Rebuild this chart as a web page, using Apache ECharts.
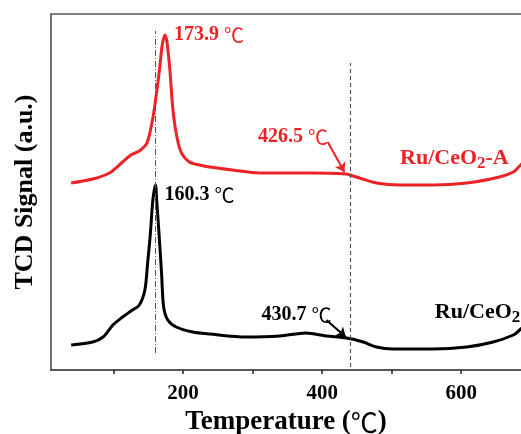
<!DOCTYPE html>
<html>
<head>
<meta charset="utf-8">
<script src="https://cdn.jsdelivr.net/npm/echarts@6/dist/echarts.min.js"></script>
<style>
  html, body { margin: 0; padding: 0; background: #fff; }
  #chart { width: 521px; height: 434px; }
</style>
</head>
<body>
<div id="chart"></div>
<script>
// temperature (℃) and TCD signal (a.u.)
var tempA = [39, 70, 94, 113, 125, 137, 148, 156, 161, 166, 170, 173.9, 177, 181, 185, 190, 197, 209, 224, 238, 271, 310, 339, 387, 435, 440, 454, 478, 512, 559, 608, 655, 675, 684, 700];
var signalA = [187, 191, 197, 208, 215, 219, 227, 250, 273, 300, 325, 335, 327, 300, 263, 237, 218, 208, 205, 203, 200, 197, 197, 197, 196, 195, 192, 187, 185, 185, 187, 193, 198, 204, 215];

var tempB = [39, 70, 85, 99, 113, 125, 137, 145, 149, 153, 156.5, 160.3, 162, 165, 169, 172, 178, 190, 214, 238, 291, 339, 377, 406, 435, 459, 478, 502, 559, 608, 646, 675, 684, 700];
var signalB = [25, 28, 33, 45, 53, 59, 65, 80, 107, 137, 170, 185, 170, 140, 97, 63, 50, 43, 38, 36, 33, 34, 37, 34, 32, 28, 23, 21, 21, 23, 28, 35, 40, 50];

var xTicks = [100, 200, 300, 400, 500, 600];
var xLabels = [200, 400, 600];

var serif = '"Liberation Serif", "Times New Roman", serif';
var red = '#ec2227';

function pairs(xs, ys) {
  return xs.map(function (x, i) { return [x, ys[i]]; });
}

function richFor(color, size) {
  return {
    a: { fontSize: size, fontWeight: 'bold', fontFamily: serif, color: color },
    s: { fontSize: size - 5, fontWeight: 'bold', fontFamily: serif, color: color, padding: [12, 0, 0, 0] },
    c: { fontSize: size, fontWeight: 'normal', fontFamily: '"Noto Sans CJK SC", sans-serif', color: color }
  };
}

function note(coord, text, color, pos, size, dist, offset) {
  return {
    coord: coord,
    symbol: 'circle',
    symbolSize: 0,
    label: {
      show: true,
      position: pos,
      distance: dist || 0,
      offset: offset || [0, 0],
      formatter: text,
      color: color,
      fontFamily: serif,
      fontWeight: 'bold',
      fontSize: size,
      rich: richFor(color, size)
    }
  };
}

var chart = echarts.init(document.getElementById('chart'));

var xBase = {
  type: 'value',
  min: 10,
  max: 686,
  splitLine: { show: false }
};

chart.setOption({
  animation: false,
  grid: { left: 51, top: 14, right: 0, bottom: 64, outerBoundsMode: 'none', containLabel: false },
  xAxis: [
    Object.assign({}, xBase, {
      position: 'bottom',
      name: 'Temperature ({c|℃})',
      nameLocation: 'middle',
      nameGap: 37,
      nameTextStyle: { fontFamily: serif, fontWeight: 'bold', fontSize: 27, color: '#000', rich: richFor('#000', 27) },
      axisLine: { lineStyle: { color: '#222', width: 1.5 } },
      axisTick: { show: true, length: 4, customValues: xTicks, lineStyle: { color: '#222', width: 1.5 } },
      axisLabel: { customValues: xLabels, margin: 13, fontFamily: serif, fontWeight: 'bold', fontSize: 21, color: '#000' }
    }),
    Object.assign({}, xBase, {
      position: 'top',
      axisLine: { lineStyle: { color: '#555', width: 1.5 } },
      axisTick: { show: false },
      axisLabel: { show: false }
    })
  ],
  yAxis: {
    type: 'value',
    min: 0,
    max: 356,
    name: 'TCD Signal (a.u.)',
    nameLocation: 'middle',
    nameGap: 13,
    nameTextStyle: { fontFamily: serif, fontWeight: 'bold', fontSize: 26, color: '#000' },
    axisLine: { show: true, lineStyle: { color: '#444', width: 1.5 } },
    axisTick: { show: false },
    axisLabel: { show: false },
    splitLine: { show: false }
  },
  series: [
    {
      name: 'Ru/CeO2-A',
      type: 'line',
      data: pairs(tempA, signalA),
      smooth: 0.3,
      symbol: 'none',
      lineStyle: { color: red, width: 3 },
      z: 3,
      markPoint: {
        data: [
          note([173.9, 335], '{a|173.9 }{c|℃}', red, 'right', 20, 9),
          note([358, 233], '{a|426.5 }{c|℃}', red, 'inside', 20),
          note([512, 212], '{a|Ru/CeO}{s|2}{a|-A}', red, 'right', 22)
        ]
      },
      markLine: {
        silent: true,
        symbol: ['none', 'arrow'],
        symbolSize: 9,
        label: { show: false },
        lineStyle: { color: red, width: 2, type: 'solid' },
        data: [[{ coord: [408, 228] }, { coord: [432, 198] }]]
      }
    },
    {
      name: 'Ru/CeO2',
      type: 'line',
      data: pairs(tempB, signalB),
      smooth: 0.3,
      symbol: 'none',
      lineStyle: { color: '#000', width: 3 },
      z: 3,
      markPoint: {
        data: [
          note([160.3, 185], '{a|160.3 }{c|℃}', '#000', 'right', 20, 9, [0, 10]),
          note([363, 55], '{a|430.7 }{c|℃}', '#000', 'inside', 20),
          note([562, 58], '{a|Ru/CeO}{s|2}', '#000', 'right', 22)
        ]
      },
      markLine: {
        silent: true,
        symbol: ['none', 'arrow'],
        symbolSize: 9,
        label: { show: false },
        lineStyle: { color: '#000', width: 2, type: 'solid' },
        data: [[{ coord: [406, 50] }, { coord: [434, 33] }]]
      }
    },
    {
      name: 'guides',
      type: 'line',
      data: [],
      markLine: {
        silent: true,
        symbol: 'none',
        label: { show: false },
        data: [
          [{ coord: [160.3, 17], lineStyle: { color: '#555', width: 1, type: [6, 2, 1, 2] } }, { coord: [160.3, 339] }],
          [{ coord: [440, 3], lineStyle: { color: '#555', width: 1.2, type: [4, 3] } }, { coord: [440, 307] }]
        ]
      }
    }
  ]
});
</script>
</body>
</html>
